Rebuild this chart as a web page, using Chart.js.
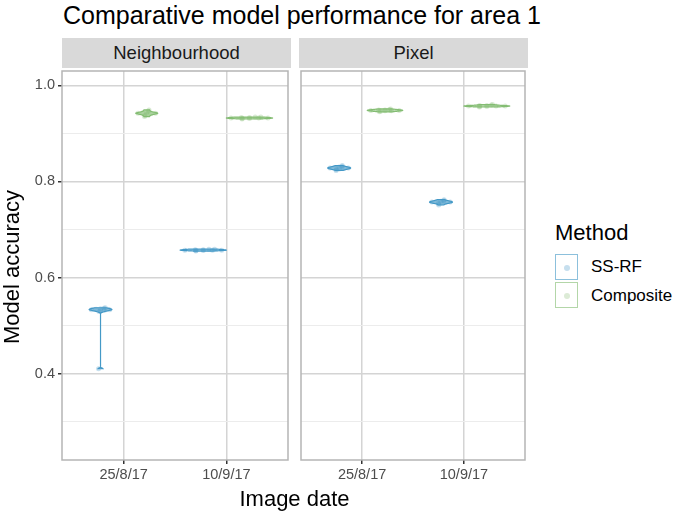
<!DOCTYPE html>
<html>
<head>
<meta charset="utf-8">
<script src="https://cdn.jsdelivr.net/npm/chart.js@4.4.0/dist/chart.umd.min.js"></script>
<style>
  body { margin: 0; background: #fff; font-family: "Liberation Sans", Arial, sans-serif; }
  #wrap { position: relative; width: 685px; height: 516px; overflow: hidden; }
  .abs { position: absolute; }
  .title { left: 63px; top: 1px; font-size: 25px; color: #000; white-space: nowrap; }
  .strip { top: 38px; height: 30px; background: #d9d9d9; color: #1a1a1a; font-size: 18.5px;
           line-height: 30px; text-align: center; }
  .ytitle { left: -68px; top: 254px; width: 160px; font-size: 22px; color: #000;
            transform: rotate(-90deg); text-align: center; white-space: nowrap; }
  .xtitle { left: 62px; width: 465px; top: 486px; font-size: 22px; color: #000; text-align: center; }
  .legtitle { left: 555px; top: 220px; font-size: 22px; color: #000; }
  .key { left: 555px; width: 21px; height: 24px; border: 1.5px solid; background: #fff; }
  .key i { position: absolute; left: 8px; top: 9.5px; width: 6px; height: 6px; border-radius: 50%; }
  .klabel { left: 591px; font-size: 17px; color: #000; }
</style>
</head>
<body>
<div id="wrap">
  <div class="abs title">Comparative model performance for area 1</div>
  <div class="abs strip" style="left:62px;width:229px">Neighbourhood</div>
  <div class="abs strip" style="left:299px;width:229px">Pixel</div>
  <canvas id="c1" class="abs" style="left:0;top:67px"></canvas>
  <canvas id="c2" class="abs" style="left:297px;top:67px"></canvas>
  <div class="abs ytitle">Model accuracy</div>
  <div class="abs xtitle">Image date</div>
  <div class="abs legtitle">Method</div>
  <div class="abs key" style="top:254px;border-color:#8cc0dc"><i style="background:#c6dfee"></i></div>
  <div class="abs klabel" style="top:257px">SS-RF</div>
  <div class="abs key" style="top:282px;border-color:#b3d6a8"><i style="background:#dcebd6"></i></div>
  <div class="abs klabel" style="top:286px">Composite</div>
</div>
<script>
// categories
const dates = ['25/8/17', '10/9/17'];
const methods = ['SS-RF', 'Composite'];
const facets = ['Neighbourhood', 'Pixel'];
const methodColors = ['#4499c7', '#84bd73'];

// accuracy samples per date
const neighSSRF = [
  [0.410, 0.529, 0.531, 0.532, 0.533, 0.533, 0.534, 0.535, 0.536, 0.537],
  [0.655, 0.656, 0.656, 0.657, 0.657, 0.657, 0.658, 0.658, 0.659, 0.659]
];
const neighComposite = [
  [0.935, 0.938, 0.940, 0.941, 0.942, 0.942, 0.943, 0.944, 0.946, 0.949],
  [0.930, 0.931, 0.931, 0.932, 0.932, 0.932, 0.933, 0.933, 0.934, 0.934]
];
const pixelSSRF = [
  [0.823, 0.825, 0.826, 0.827, 0.828, 0.828, 0.829, 0.830, 0.831, 0.833],
  [0.751, 0.754, 0.755, 0.756, 0.757, 0.757, 0.758, 0.759, 0.760, 0.762]
];
const pixelComposite = [
  [0.945, 0.946, 0.947, 0.947, 0.948, 0.948, 0.949, 0.949, 0.950, 0.951],
  [0.955, 0.956, 0.956, 0.957, 0.957, 0.957, 0.958, 0.958, 0.959, 0.960]
];

const yTicks = [0.3, 0.4, 0.5, 0.6, 0.7, 0.8, 0.9, 1.0];
const yLabelled = [0.4, 0.6, 0.8, 1.0];

// --- kernel density (R's bw.nrd0 + gaussian), like geom_violin ---
function quantile(s, p) {
  const h = (s.length - 1) * p, lo = Math.floor(h);
  return s[lo] + (h - lo) * ((s[lo + 1] ?? s[lo]) - s[lo]);
}
function bwNrd0(x) {
  const n = x.length;
  const m = x.reduce((a, b) => a + b, 0) / n;
  const sd = Math.sqrt(x.reduce((a, b) => a + (b - m) * (b - m), 0) / (n - 1));
  const s = [...x].sort((a, b) => a - b);
  const iqr = quantile(s, 0.75) - quantile(s, 0.25);
  let lo = Math.min(sd, iqr / 1.34);
  if (!lo) lo = sd || Math.abs(s[0]) || 1;
  return 0.9 * lo * Math.pow(n, -0.2);
}
function violin(x) {
  const bw = bwNrd0(x);
  const lo = Math.min(...x), hi = Math.max(...x);
  const pts = [];
  for (let k = 0; k <= 200; k++) {
    const y = lo + (hi - lo) * k / 200;
    let d = 0;
    x.forEach(v => { const z = (y - v) / bw; d += Math.exp(-0.5 * z * z); });
    pts.push({ y, d: d / (x.length * bw * Math.sqrt(2 * Math.PI)) });
  }
  return pts;
}

const dodge = [-0.225, 0.225];

function buildGroups(series) {
  // series[method][date] -> samples
  const groups = [];
  series.forEach((byDate, mi) => {
    byDate.forEach((samples, di) => {
      groups.push({ mi, x: di + 1 + dodge[mi], samples, shape: violin(samples) });
    });
  });
  const maxD = Math.max(...groups.flatMap(g => g.shape.map(p => p.d)));
  groups.forEach(g => g.shape.forEach(p => p.w = p.d / maxD * 0.225));
  return groups;
}

function widthAt(g, v) {
  let best = g.shape[0];
  g.shape.forEach(p => { if (Math.abs(p.y - v) < Math.abs(best.y - v)) best = p; });
  return best.w;
}

function alpha(hex, a) {
  const n = parseInt(hex.slice(1), 16);
  return `rgba(${n >> 16},${(n >> 8) & 255},${n & 255},${a})`;
}

const violinPlugin = {
  id: 'violins',
  beforeDatasetsDraw(chart) {
    const { ctx, scales: { x, y } } = chart;
    chart.options.plugins.violins.groups.forEach(g => {
      const col = methodColors[g.mi];
      ctx.save();
      ctx.beginPath();
      g.shape.forEach((p, i) => {
        const px = x.getPixelForValue(g.x + p.w), py = y.getPixelForValue(p.y);
        i ? ctx.lineTo(px, py) : ctx.moveTo(px, py);
      });
      [...g.shape].reverse().forEach(p => {
        ctx.lineTo(x.getPixelForValue(g.x - p.w), y.getPixelForValue(p.y));
      });
      ctx.closePath();
      ctx.fillStyle = alpha(col, 0.55);
      ctx.fill();
      ctx.strokeStyle = col;
      ctx.lineWidth = 1.2;
      ctx.stroke();
      ctx.restore();
    });
  }
};

const borderPlugin = {
  id: 'panelBorder',
  afterDraw(chart) {
    const { ctx, chartArea: a } = chart;
    ctx.save();
    ctx.strokeStyle = '#b5b5b5';
    ctx.lineWidth = 1.5;
    ctx.strokeRect(a.left, a.top, a.right - a.left, a.bottom - a.top);
    ctx.restore();
  }
};

function noPad(s) {
  s.paddingTop = 0; s.paddingBottom = 0; s.paddingLeft = 0; s.paddingRight = 0;
}

function makeChart(id, series, showY) {
  const groups = buildGroups(series);
  const datasets = groups.map(g => ({
    // small jitter kept inside the violin outline
    data: g.samples.map((v, i) => ({ x: g.x + ((i % 5) - 2) / 2 * widthAt(g, v) * 0.8, y: v })),
    backgroundColor: alpha(methodColors[g.mi], 0.3),
    pointRadius: 2.5,
    borderWidth: 0
  }));
  const canvas = document.getElementById(id);
  const w = showY ? 292 : 232;
  canvas.width = w; canvas.height = 430;
  canvas.style.width = w + 'px'; canvas.style.height = '430px';
  return new Chart(canvas, {
    type: 'scatter',
    data: { datasets },
    plugins: [violinPlugin, borderPlugin],
    options: {
      responsive: false,
      animation: false,
      layout: { padding: { left: showY ? 0 : 2, right: 2, top: 2, bottom: 0 } },
      plugins: {
        legend: { display: false },
        tooltip: { enabled: false },
        violins: { groups }
      },
      scales: {
        x: {
          type: 'linear', min: 0.4, max: 2.6,
          afterBuildTicks: s => { s.ticks = dates.map((d, i) => ({ value: i + 1 })); },
          afterFit: s => { s.height = 37; noPad(s); },
          ticks: {
            callback: v => dates[v - 1],
            color: '#4d4d4d', padding: 2,
            font: { family: 'Liberation Sans', size: 14.5 }
          },
          grid: { color: '#d4d4d4', lineWidth: 1.5, tickLength: 4, tickColor: '#333' },
          border: { display: false }
        },
        y: {
          min: 0.22, max: 1.03,
          afterBuildTicks: s => { s.ticks = yTicks.map(v => ({ value: v })); },
          afterFit: s => { s.width = showY ? 62 : 0; noPad(s); },
          ticks: {
            display: showY,
            callback: v => yLabelled.some(t => Math.abs(t - v) < 1e-6) ? v.toFixed(1) : '',
            color: '#4d4d4d', padding: 3,
            font: { family: 'Liberation Sans', size: 14.5 }
          },
          grid: {
            color: c => yLabelled.some(t => Math.abs(t - c.tick.value) < 1e-6) ? '#d4d4d4' : '#ececec',
            lineWidth: c => yLabelled.some(t => Math.abs(t - c.tick.value) < 1e-6) ? 1.5 : 1,
            drawTicks: showY, tickLength: 4,
            tickColor: c => yLabelled.some(t => Math.abs(t - c.tick.value) < 1e-6) ? '#333' : 'rgba(0,0,0,0)'
          },
          border: { display: false }
        }
      }
    }
  });
}

makeChart('c1', [neighSSRF, neighComposite], true);
makeChart('c2', [pixelSSRF, pixelComposite], false);
</script>
</body>
</html>
